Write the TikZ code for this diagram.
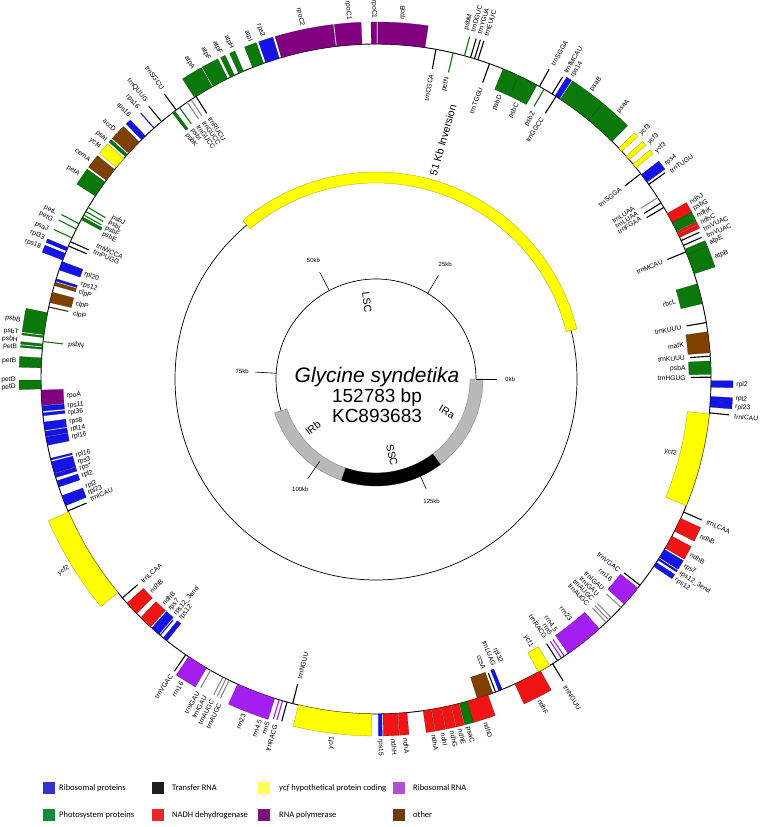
\documentclass[tikz,border=0pt]{standalone}
\usepackage{fontspec}
\setmainfont{Liberation Sans}
\newfontfamily\calib{Carlito}
\definecolor{gblue}{RGB}{20,20,230}
\definecolor{ggreen}{RGB}{10,120,10}
\definecolor{gred}{RGB}{240,20,20}
\definecolor{gyel}{RGB}{255,255,0}
\definecolor{gpur}{RGB}{128,0,128}
\definecolor{grrn}{RGB}{165,30,240}
\definecolor{gbrown}{RGB}{128,64,0}
\definecolor{ggray}{RGB}{185,185,185}
\definecolor{tgray}{RGB}{140,140,140}
\definecolor{lblue}{RGB}{50,50,205}
\definecolor{lblack}{RGB}{30,30,30}
\definecolor{lyel}{RGB}{255,255,90}
\definecolor{lorch}{RGB}{175,80,210}
\definecolor{lgreen}{RGB}{20,140,60}
\definecolor{lred}{RGB}{232,40,40}
\definecolor{lpur}{RGB}{120,20,120}
\definecolor{lbrown}{RGB}{110,60,10}
\newcounter{lc}
\newcommand{\Sec}[5]{\filldraw[fill=#5, draw=#5!60!black, line width=0.25pt] (#1:#3) arc[start angle=#1, end angle=#2, radius=#3] -- (#2:#4) arc[start angle=#2, end angle=#1, radius=#4] -- cycle;}
\newcommand{\OB}[3]{\Sec{#1}{#2}{335}{357}{#3}}
\newcommand{\IB}[3]{\Sec{#1}{#2}{313}{335}{#3}}
\newcommand{\OLn}[2]{\draw[#2, line width=1.1pt] (#1:335) -- (#1:355);}
\newcommand{\ILn}[2]{\draw[#2, line width=1.1pt] (#1:335) -- (#1:315);}
\newcommand{\OL}[2]{\stepcounter{lc}\pgfmathsetmacro{\labang}{#1}\pgfmathtruncatemacro{\labside}{cos(\labang)>=0 ? 1 : 0}%
\ifnum\labside=1 \node[glab,anchor=west,rotate=\labang] (o\thelc) at (\labang:360) {#2};%
\else\pgfmathsetmacro{\labrot}{\labang+180}\node[glab,anchor=east,rotate=\labrot] (o\thelc) at (\labang:360) {#2};\fi}
\newcommand{\IL}[2]{\stepcounter{lc}\pgfmathsetmacro{\labang}{#1}\pgfmathtruncatemacro{\labside}{cos(\labang)>=0 ? 1 : 0}%
\ifnum\labside=1 \node[glab,anchor=east,rotate=\labang] (i\thelc) at (\labang:310) {#2};%
\else\pgfmathsetmacro{\labrot}{\labang+180}\node[glab,anchor=west,rotate=\labrot] (i\thelc) at (\labang:310) {#2};\fi}
\begin{document}
\begin{tikzpicture}[x=1pt,y=1pt,
  glab/.style={font=\fontsize{6.7}{7.5}\selectfont, inner sep=0.2pt},
  legtxt/.style={font=\calib\fontsize{8.5}{10}\selectfont, anchor=west, inner sep=0pt}]
\useasboundingbox (0,0) rectangle (760,827);
\fill[white] (0,0) rectangle (760,827);
\begin{scope}[shift={(376,448)}]
% rings
\draw[line width=0.9pt] (0,0) circle[radius=335];
\draw[line width=0.7pt] (0,0) circle[radius=201];
\draw[line width=0.7pt] (0,0) circle[radius=100];
% inner circle regions
\Sec{0}{-53}{94}{107}{ggray}
\Sec{-53}{-109}{94}{107}{black}
\Sec{-109}{-161.5}{94}{107}{ggray}
\foreach \k in {0,25,50,75,100,125}{
  \pgfmathsetmacro{\ta}{\k/152.783*360}
  \draw[line width=0.6pt] (\ta:100) -- (\ta:121);
  \node[font=\fontsize{6}{7}\selectfont, inner sep=0pt] (tk\k) at (\ta:134) {\k kb};
}
\node[font=\fontsize{10.5}{12}\selectfont, rotate=-83] (lsc) at (-9,77) {LSC};
\node[font=\fontsize{10.5}{12}\selectfont, rotate=-78] (ssc) at (16,-76) {SSC};
\node[font=\fontsize{10.5}{12}\selectfont, rotate=-30] (ira) at (71,-33) {IRa};
\node[font=\fontsize{10.5}{12}\selectfont, rotate=38] (irb) at (-63,-49) {IRb};
\node[font=\fontsize{21}{24}\selectfont\itshape, anchor=base] (sp) at (1,-4) {Glycine syndetika};
\node[font=\fontsize{19}{22}\selectfont, anchor=base] (bp) at (1,-24) {152783 bp};
\node[font=\fontsize{19}{22}\selectfont, anchor=base] (acc) at (1,-44) {KC893683};
% inversion
\Sec{14}{130}{196}{207}{gyel}
\node[font=\fontsize{10.5}{12}\selectfont, rotate=74] (inv) at (67,239) {51 Kb Inversion};
% ===== IRa =====
\OB{-0.3}{-1.4}{gblue} \OL{-0.85}{rpl2}
\OB{-3.0}{-3.9}{gblue} \OB{-3.9}{-4.8}{gblue} \OL{-3.2}{rpl2} \OL{-4.5}{rpl23}
\OLn{-5.8}{black} \OL{-6.0}{trnICAU}
\IB{-6.0}{-22.2}{gyel} \IL{-14}{ycf2}
\OLn{-23.4}{black} \OL{-23.4}{trnLCAA}
\OB{-24.6}{-27}{gred} \OL{-25.8}{ndhB}
\OB{-28}{-30.3}{gred} \OL{-29.2}{ndhB}
\OB{-30.6}{-32.2}{gblue} \OL{-31.2}{rps7}
\OB{-32.4}{-32.7}{gblue} \OL{-32.5}{rps12\_3end}
\OB{-33.2}{-34.0}{gblue} \OL{-33.8}{rps12}
\ILn{-38}{black} \IL{-38.2}{trnVGAC}
\IB{-38.6}{-42.2}{grrn} \IL{-40.5}{rrn16}
\ILn{-43}{tgray} \ILn{-45.4}{tgray} \ILn{-46}{tgray} \ILn{-46.6}{tgray}
\IL{-42.8}{trnIGAU} \IL{-44.2}{trnIGAU} \IL{-45.5}{trnAUGC} \IL{-46.8}{trnAUGC}
\IB{-48.2}{-55}{grrn} \IL{-51}{rrn23}
\ILn{-55.8}{grrn} \ILn{-56.4}{grrn} \ILn{-57.2}{black}
\IL{-54.4}{rrn4.5} \IL{-55.6}{rrn5} \IL{-56.8}{trnRACG}
\OLn{-58.2}{black} \OL{-58.4}{trnNGUU}
\IB{-58.8}{-61}{gyel} \IL{-59.8}{ycf1}
% ===== SSC =====
\OB{-60.6}{-65.5}{gred} \OL{-63}{ndhF}
\IB{-67.9}{-68.5}{gblue} \IL{-66.2}{rpl32}
\ILn{-69.1}{black} \IL{-67.6}{trnLUAG}
\IB{-69.6}{-72.4}{gbrown} \IL{-69.6}{ccsA}
\OB{-70.5}{-74.2}{gred} \OL{-72.3}{ndhD}
\OB{-74.2}{-75.6}{ggreen} \OL{-75.2}{psaC}
\OB{-75.7}{-77}{gred} \OL{-76.5}{ndhE}
\OB{-77.1}{-78.7}{gred} \OL{-77.8}{ndhG}
\OB{-78.8}{-80.4}{gred} \OL{-79.3}{ndhI}
\OB{-80.5}{-81.9}{gred} \OL{-80.8}{ndhA}
\OB{-84.7}{-86.2}{gred} \OL{-85.3}{ndhA}
\OB{-86.3}{-88.8}{gred} \OL{-87.2}{ndhH}
\OB{-89}{-89.6}{gblue} \OL{-89.3}{rps15}
\OB{-90.7}{-103.4}{gyel} \OL{-97}{ycf1}
% ===== IRb =====
\ILn{-104.4}{black} \IL{-104.3}{trnNGUU}
\OLn{-105.4}{black} \OLn{-106.2}{grrn} \OLn{-106.8}{grrn}
\OL{-106.2}{trnRACG} \OL{-107.5}{rrn5} \OL{-108.8}{rrn4.5}
\OB{-107.6}{-114.4}{grrn} \OL{-111.5}{rrn23}
\OLn{-116}{tgray} \OLn{-116.6}{tgray} \OLn{-117.2}{tgray} \OLn{-119.6}{tgray}
\OL{-115.7}{trnAUGC} \OL{-117}{trnAUGC} \OL{-118.3}{trnIGAU} \OL{-119.6}{trnIGAU}
\OB{-120.4}{-124}{grrn} \OL{-122.6}{rrn16}
\OLn{-124.6}{black} \OL{-124.6}{trnVGAC}
\IB{-128.6}{-129.4}{gblue} \IL{-129.2}{rps12}
\ILn{-130.1}{gblue} \IL{-130.5}{rps12\_3end}
\IB{-130.4}{-132}{gblue} \IL{-131.8}{rps7}
\IB{-132.3}{-134.6}{gred} \IL{-133.4}{ndhB}
\IB{-135.6}{-138}{gred} \IL{-136.7}{ndhB}
\ILn{-139.2}{black} \IL{-139.1}{trnLCAA}
\OB{-140.4}{-156.6}{gyel} \OL{-148.5}{ycf2}
\ILn{-156.8}{black} \IL{-157.2}{trnICAU}
\IB{-157.8}{-158.7}{gblue} \IB{-158.7}{-159.6}{gblue}
\IL{-158.4}{rpl23} \IL{-159.6}{rpl2}
\IB{-161.2}{-162.3}{gblue} \IL{-161.8}{rpl2}
% ===== LSC =====
\ILn{0.3}{black} \IL{0.2}{trnHGUG}
\IB{0.8}{3.1}{ggreen} \IL{1.9}{psbA}
\ILn{3.9}{black} \IL{3.9}{trnKUUU}
\IB{4.5}{8.1}{gbrown} \IL{6.3}{matK}
\ILn{9.7}{black} \IL{9.5}{trnKUUU}
\IB{13}{16.5}{ggreen} \IL{14.5}{rbcL}
\OB{18.3}{21.8}{ggreen} \OL{19.8}{atpB}
\OB{21.8}{22.8}{ggreen} \OL{22.2}{atpE}
\ILn{22.3}{black} \IL{22.3}{trnMCAU}
\OLn{23.5}{black} \OLn{24.4}{black} \OL{23.4}{trnVUAC} \OL{24.6}{trnVUAC}
\OB{25}{25.6}{gred} \OL{25.8}{ndhC}
\OB{25.7}{26.1}{gred} \OL{27.0}{ndhK}
\OB{26.2}{27.9}{ggreen} \OL{28.2}{psbG}
\OB{27.9}{29.6}{gred} \OL{29.4}{ndhJ}
\ILn{30.8}{black} \ILn{31.7}{black} \ILn{32.8}{tgray}
\IL{31.2}{trnFGAA} \IL{32.4}{trnLUAA} \IL{33.6}{trnLUAA}
\OLn{35.5}{black} \OL{35.2}{trnTUGU}
\OB{36}{37.6}{gblue} \OL{36.6}{rps4}
\ILn{37.8}{black} \IL{37.8}{trnSGGA}
\OB{39.1}{39.9}{gyel} \OL{39.1}{ycf3}
\OB{40.9}{41.7}{gyel} \OL{40.9}{ycf3}
\OB{42.8}{43.6}{gyel} \OL{42.8}{ycf3}
\OB{45.2}{50.6}{ggreen} \OL{47.8}{psaA}
\OB{50.6}{56.6}{ggreen} \OL{53.3}{psaB}
\OB{56.8}{57.7}{gblue} \OL{57.0}{rps14}
\OLn{58.3}{black} \OL{58.3}{trnfMCAU}
\ILn{57.5}{black} \IL{57.5}{trnGGCC}
\ILn{59.9}{ggreen} \IL{59.4}{psbZ}
\OLn{60.8}{black} \OL{60.6}{trnSGGA}
\IB{61.3}{64.8}{ggreen} \IL{62.8}{psbC}
\IB{64.8}{67.7}{ggreen} \IL{66.3}{psbD}
\ILn{70.2}{black} \IL{70.2}{trnTGGU}
\OLn{72.3}{black} \OLn{72.9}{black} \OLn{73.6}{black} \OLn{74.7}{ggreen}
\OL{72.2}{trnEUUC} \OL{73.3}{trnYGUA} \OL{74.4}{trnDGUC} \OL{75.5}{psbM}
\ILn{76.7}{ggreen} \IL{76.7}{petN}
\ILn{79.7}{black} \IL{79.7}{trnCGCA}
\OB{81.6}{89.7}{gpur} \OL{85.8}{rpoB}
\OB{89.9}{90.8}{gpur} \OL{90.3}{rpoC1}
\OB{92.4}{96.7}{gpur} \OL{94.3}{rpoC1}
\OB{96.9}{106.4}{gpur} \OL{101.8}{rpoC2}
\OB{106.8}{109.2}{gblue} \OL{108.3}{rps2}
\OB{109.6}{111.6}{ggreen} \OL{110.4}{atpI}
\OB{113.3}{114.2}{ggreen} \OL{113.6}{atpH}
\OB{115}{115.8}{ggreen} \OL{115.6}{atpF}
\OB{116.3}{119.1}{ggreen} \OL{117.6}{atpF}
\OB{119.3}{122.8}{ggreen} \OL{120.5}{atpA}
\ILn{122.5}{black} \ILn{123.5}{tgray} \ILn{124.3}{tgray}
\IL{122.5}{trnRUCU} \IL{123.8}{trnGUCC} \IL{125.1}{trnGUCC}
\ILn{125.9}{ggreen} \IB{126.9}{127.4}{ggreen}
\IL{126.4}{psbI} \IL{127.7}{psbK}
\OLn{126.6}{black} \OL{126.3}{trnSGCU}
\OLn{129.8}{black} \OL{129.6}{trnQUUG}
\OLn{131.5}{gblue} \OL{131.3}{rps16}
\OB{133.5}{134.4}{gblue} \OL{133.2}{rps16}
\OB{135}{137.6}{gbrown} \OL{136.4}{accD}
\OB{137.9}{138.4}{ggreen} \OL{138.5}{psaI}
\OB{138.8}{140.8}{gyel} \OL{140.0}{ycf4}
\OB{141.3}{143.6}{gbrown} \OL{142.6}{cemA}
\OB{144}{146.9}{ggreen} \OL{145.5}{petA}
\ILn{149.2}{ggreen} \ILn{150}{ggreen} \ILn{150.7}{ggreen} \IB{151.1}{151.6}{ggreen}
\IL{148.4}{psbJ} \IL{149.6}{psbL} \IL{150.8}{psbF} \IL{152.0}{psbE}
\OLn{152.4}{ggreen} \OLn{153.4}{ggreen} \OL{152.6}{petL} \OL{153.8}{petG}
\OLn{155.1}{ggreen} \OL{155.5}{psaJ}
\ILn{155.8}{black} \ILn{156.6}{black} \IL{154.4}{trnWCCA} \IL{155.7}{trnPUGG}
\OB{156.9}{157.5}{gblue} \OL{157.0}{rpl33}
\OB{158}{159.2}{gblue} \OL{158.5}{rps18}
\IB{159.5}{161}{gblue} \IL{160.2}{rpl20}
\IB{162.6}{163}{gblue} \IL{162.2}{rps12}
\IB{163.2}{163.8}{gbrown} \IL{163.7}{clpP}
\IB{165}{166.8}{gbrown} \IL{165.9}{clpP}
\ILn{167.6}{gbrown!60!black} \IL{167.9}{clpP}
\OB{168.6}{172.4}{ggreen} \OL{170.6}{psbB}
\OB{172.6}{172.9}{ggreen} \OL{172.6}{psbT}
\ILn{173.6}{ggreen} \IL{173.6}{psbN}
\OB{174}{174.4}{ggreen} \OL{173.8}{psbH}
\OB{174.6}{174.9}{ggreen} \OL{175.0}{petB}
\OB{176.4}{178.1}{ggreen} \OL{177.2}{petB}
\OB{180.2}{181.7}{ggreen} \OL{180.1}{petD} \OL{181.3}{petD}
\IB{181.9}{184.5}{gpur} \IL{183.1}{rpoA}
\IB{184.6}{185.5}{gblue} \IL{185.0}{rps11}
\IB{185.8}{186.3}{gblue} \IL{186.3}{rpl36}
\IB{187.4}{188.8}{gblue} \IL{188}{rps8}
\IB{189}{189.9}{gblue} \IL{189.4}{rpl14}
\IB{190}{191.4}{gblue} \IL{190.8}{rpl16}
\IB{193.7}{194}{gblue} \IL{194.3}{rpl16}
\IB{194.3}{196.3}{gblue} \IL{195.6}{rps3}
\IB{196.4}{197.1}{gblue} \IL{196.9}{rps*}
\end{scope}
% legend
\fill[lblue] (43,33) rectangle (55,45);   \node[legtxt] (l1) at (59,39) {Ribosomal proteins};
\fill[lblack] (152,33) rectangle (164,45); \node[legtxt] (l2) at (172,39) {Transfer RNA};
\fill[lyel] (258,33) rectangle (270,45);  \node[legtxt] (l3) at (279,39) {\textit{ycf} hypothetical protein coding};
\fill[lorch] (393,33) rectangle (405,45); \node[legtxt] (l4) at (413,39) {Ribosomal RNA};
\fill[lgreen] (43,6) rectangle (55,18);   \node[legtxt] (l5) at (59,12) {Photosystem proteins};
\fill[lred] (152,6) rectangle (164,18);   \node[legtxt] (l6) at (172,12) {NADH dehydrogenase};
\fill[lpur] (258,6) rectangle (270,18);   \node[legtxt] (l7) at (279,12) {RNA polymerase};
\fill[lbrown] (393,6) rectangle (405,18); \node[legtxt] (l8) at (413,12) {other};
\end{tikzpicture}
\end{document}
